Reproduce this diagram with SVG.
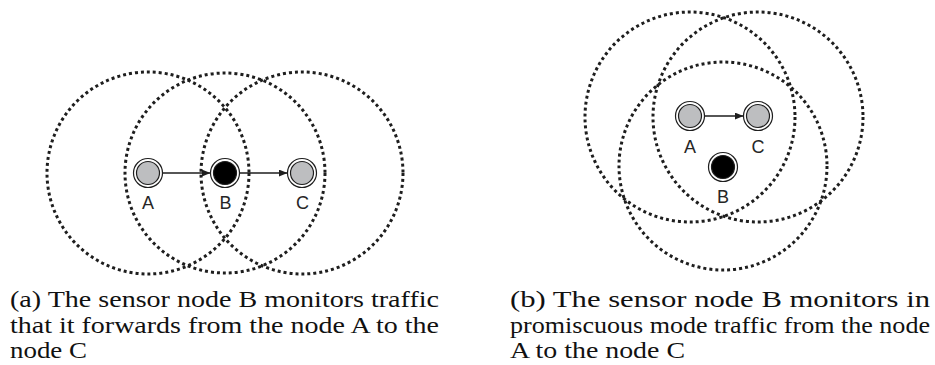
<svg xmlns="http://www.w3.org/2000/svg" width="935" height="365" viewBox="0 0 935 365">
<style>
.range{fill:none;stroke:#1e1e1e;stroke-width:3;stroke-dasharray:3 3}
.outer{fill:#fff;stroke:#1e1e1e;stroke-width:1.2}
.in-g{fill:#bdbec0;stroke:#1e1e1e;stroke-width:1.2}
.in-b{fill:#000;stroke:#1e1e1e;stroke-width:1.2}
.lbl{font-family:"Liberation Sans",Arial,sans-serif;font-size:18px;fill:#262626;text-anchor:middle}
.cap{font-family:"Liberation Serif","Times New Roman",serif;font-size:24px;fill:#111}
.edge{stroke:#1e1e1e;stroke-width:1.4;fill:none;marker-end:url(#ah)}
</style>
<defs>
<marker id="ah" viewBox="0 0 10 8" refX="10" refY="4" markerUnits="userSpaceOnUse" markerWidth="9" markerHeight="7" orient="auto">
<path d="M0,0 L10,4 L0,8 Z" fill="#1e1e1e"/>
</marker>
</defs>

<g id="ranges-a">
<circle class="range" cx="148" cy="173" r="101"/>
<circle class="range" cx="225" cy="173" r="100"/>
<circle class="range" cx="302" cy="173" r="101"/>
</g>
<g id="ranges-b">
<circle class="range" cx="690" cy="117" r="105"/>
<circle class="range" cx="758" cy="117" r="105"/>
<circle class="range" cx="723" cy="166" r="104"/>
</g>

<g id="connectors">
<line class="edge" x1="162.5" y1="173" x2="210.5" y2="173"/>
<line class="edge" x1="239.5" y1="173" x2="287.5" y2="173"/>
<line class="edge" x1="704.5" y1="116" x2="743.5" y2="116"/>
</g>

<g id="a-node-A">
<circle class="outer" cx="148" cy="173" r="14.5"/>
<circle class="in-g" cx="148" cy="173" r="11.5"/>
<text class="lbl" x="148" y="208.5">A</text>
</g>
<g id="a-node-B">
<circle class="outer" cx="225" cy="173" r="14.5"/>
<circle class="in-b" cx="225" cy="173" r="11.5"/>
<text class="lbl" x="225.5" y="208.5">B</text>
</g>
<g id="a-node-C">
<circle class="outer" cx="302" cy="173" r="14.5"/>
<circle class="in-g" cx="302" cy="173" r="11.5"/>
<text class="lbl" x="302.5" y="208.5">C</text>
</g>

<g id="b-node-A">
<circle class="outer" cx="690" cy="116" r="14.5"/>
<circle class="in-g" cx="690" cy="116" r="11.5"/>
<text class="lbl" x="690" y="152.5">A</text>
</g>
<g id="b-node-C">
<circle class="outer" cx="758" cy="116" r="14.5"/>
<circle class="in-g" cx="758" cy="116" r="11.5"/>
<text class="lbl" x="758" y="152.5">C</text>
</g>
<g id="b-node-B">
<circle class="outer" cx="723" cy="167" r="14.5"/>
<circle class="in-b" cx="723" cy="167" r="11.5"/>
<text class="lbl" x="723" y="202.5">B</text>
</g>

<g id="caption-a">
<text class="cap" x="10" y="306.5" textLength="429" lengthAdjust="spacingAndGlyphs">(a) The sensor node B monitors traffic</text>
<text class="cap" x="10" y="332.5" textLength="429" lengthAdjust="spacingAndGlyphs">that it forwards from the node A to the</text>
<text class="cap" x="10" y="358" textLength="77" lengthAdjust="spacingAndGlyphs">node C</text>
</g>
<g id="caption-b">
<text class="cap" x="510" y="306.5" textLength="420" lengthAdjust="spacingAndGlyphs">(b) The sensor node B monitors in</text>
<text class="cap" x="510" y="332.5" textLength="420" lengthAdjust="spacingAndGlyphs">promiscuous mode traffic from the node</text>
<text class="cap" x="510" y="358" textLength="175" lengthAdjust="spacingAndGlyphs">A to the node C</text>
</g>
</svg>
